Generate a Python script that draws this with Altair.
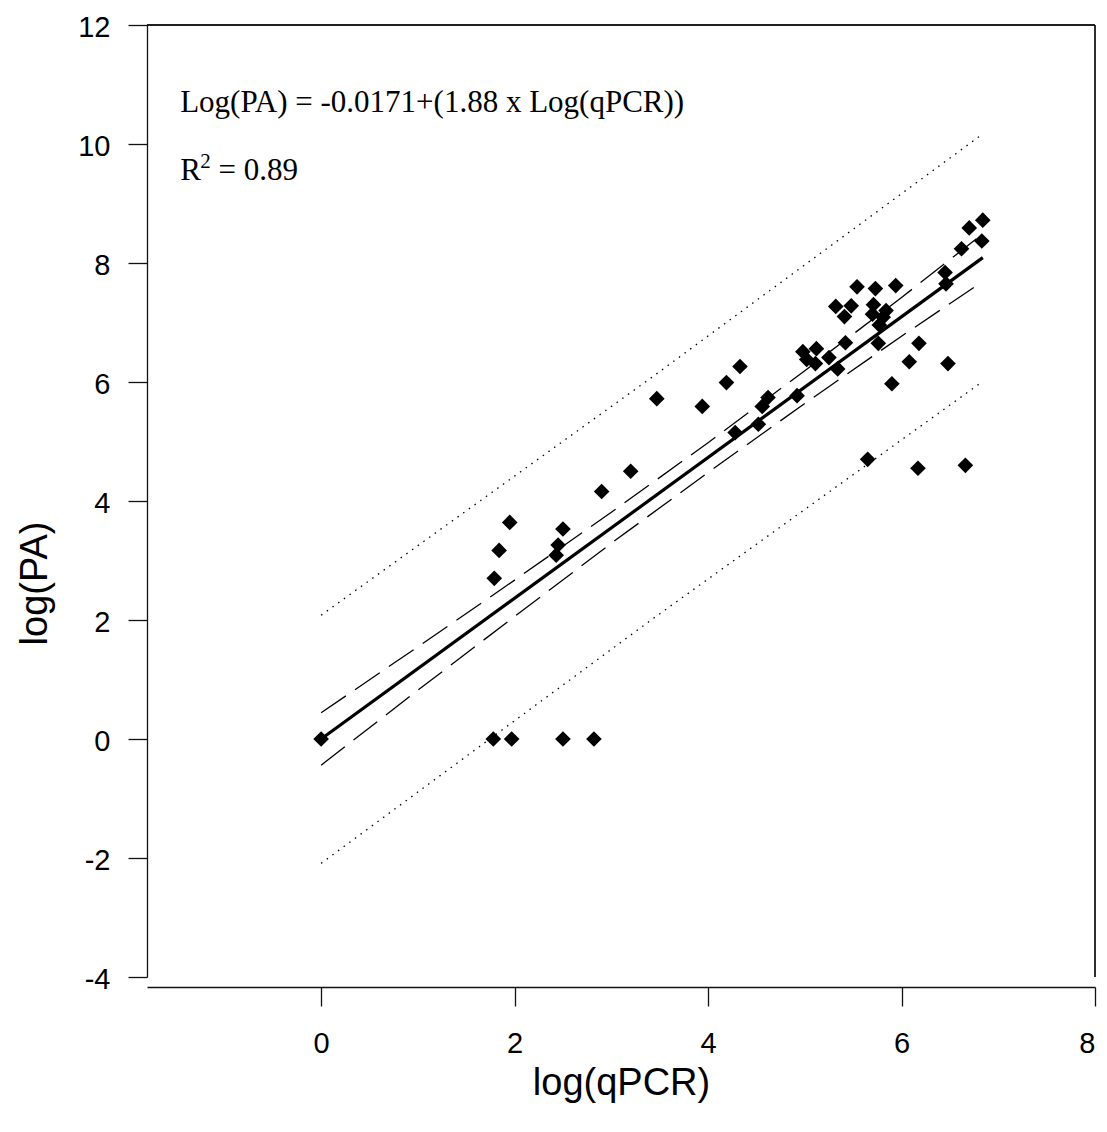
import altair as alt
import pandas as pd

# ---- data ----
qpcr = [0.00, 1.78, 1.97, 2.50, 2.82, 1.79, 1.84, 1.95, 2.43, 2.45, 2.50, 2.90, 3.20, 3.47, 3.94,
        4.19, 4.33, 4.28, 4.52, 4.56, 4.62, 4.92, 4.98, 5.02, 5.11, 5.12, 5.25, 5.34, 5.42,
        5.54, 5.73, 5.94, 5.32, 5.48, 5.41, 5.71, 5.70, 5.84, 5.81, 5.77, 5.76, 6.18, 6.08,
        6.48, 5.90, 6.45, 6.46, 6.62, 6.70, 6.84, 6.83, 5.65, 6.17, 6.66]
pa = [0.00, 0.00, 0.00, 0.00, 0.00, 2.70, 3.17, 3.64, 3.09, 3.26, 3.53, 4.16, 4.50, 5.72, 5.59,
      5.99, 6.26, 5.15, 5.29, 5.59, 5.74, 5.77, 6.51, 6.38, 6.31, 6.56, 6.41, 6.22, 6.66,
      7.60, 7.57, 7.62, 7.27, 7.28, 7.10, 7.30, 7.14, 7.20, 7.09, 6.96, 6.65, 6.65, 6.34,
      6.31, 5.97, 7.84, 7.65, 8.24, 8.59, 8.72, 8.37, 4.70, 4.55, 4.60]

reg_x = [0.0, 6.84]
reg_y = [0.0, 8.09]

ci_x = [0, 1, 2, 3, 4, 5, 6, 6.84]
ci_upper = [0.44, 1.55, 2.67, 3.81, 4.98, 6.19, 7.42, 8.49]
ci_lower = [-0.44, 0.82, 2.06, 3.29, 4.48, 5.64, 6.77, 7.69]

pi_x = [0.0, 3.42, 6.84]
pi_upper = [2.08, 6.08, 10.17]
pi_lower = [-2.09, 2.01, 6.01]

x_ticks = [0, 2, 4, 6, 8]
y_ticks = [-4, -2, 0, 2, 4, 6, 8, 10, 12]

ann_text = ["Log(PA) = -0.0171+(1.88 x Log(qPCR))", "R", "= 0.89"]
ann_x = [-1.457, -1.457, -1.060]
ann_y = [10.54, 9.39, 9.39]
sup_text = ["2"]
sup_x = [-1.250]
sup_y = [9.60]

W, H = 948, 952

pts = pd.DataFrame({"x": qpcr, "y": pa})
reg = pd.DataFrame({"x": reg_x, "y": reg_y})
ci = pd.DataFrame({"x": ci_x * 2, "y": ci_upper + ci_lower,
                   "band": ["u"] * len(ci_x) + ["l"] * len(ci_x)})
pi = pd.DataFrame({"x": pi_x * 2, "y": pi_upper + pi_lower,
                   "band": ["u"] * len(pi_x) + ["l"] * len(pi_x)})
ann = pd.DataFrame({"x": ann_x, "y": ann_y, "t": ann_text})
sup = pd.DataFrame({"x": sup_x, "y": sup_y, "t": sup_text})

X = alt.X("x:Q",
          scale=alt.Scale(domain=[-1.8, 8], nice=False, zero=False),
          axis=alt.Axis(values=x_ticks, title="log(qPCR)", offset=10, grid=False,
                        tickSize=19, tickWidth=1.3, tickColor="#111",
                        domainColor="#111", domainWidth=1.3,
                        labelFont="Liberation Sans", labelFontSize=29, labelColor="black",
                        labelBaseline="alphabetic", labelPadding=46,
                        labelExpr="'' + datum.value",
                        titleFont="Liberation Sans", titleFontSize=38, titleFontWeight="normal",
                        titleColor="black", titleBaseline="alphabetic", titleY=107))
Y = alt.Y("y:Q",
          scale=alt.Scale(domain=[-4, 12], nice=False, zero=False),
          axis=alt.Axis(values=y_ticks, title="log(PA)", grid=False,
                        tickSize=19, tickWidth=1.3, tickColor="#111",
                        domainColor="#111", domainWidth=1.3,
                        labelFont="Liberation Sans", labelFontSize=29, labelColor="black",
                        labelPadding=18, labelOffset=2,
                        labelExpr="'' + datum.value",
                        titleFont="Liberation Sans", titleFontSize=38, titleFontWeight="normal",
                        titleColor="black", titleBaseline="alphabetic",
                        titleX=-101, titleY=558, titleAngle=-90))

pi_layer = alt.Chart(pi).mark_line(color="black", strokeWidth=1.3, strokeDash=[1.5, 5.5]).encode(
    x=X, y=Y, detail="band:N")
ci_layer = alt.Chart(ci).mark_line(color="black", strokeWidth=1.3, strokeDash=[30, 11]).encode(
    x=X, y=Y, detail="band:N")
reg_layer = alt.Chart(reg).mark_line(color="black", strokeWidth=3.2).encode(x=X, y=Y)
pt_layer = alt.Chart(pts).mark_point(shape="diamond", filled=True, size=245,
                                     color="black", opacity=1).encode(x=X, y=Y)
ann_layer = alt.Chart(ann).mark_text(align="left", baseline="alphabetic",
                                     font="Liberation Serif", fontSize=31,
                                     color="black").encode(x=X, y=Y, text="t:N")
sup_layer = alt.Chart(sup).mark_text(align="left", baseline="alphabetic",
                                     font="Liberation Serif", fontSize=21,
                                     color="black").encode(x=X, y=Y, text="t:N")

top_rule = alt.Chart(reg).mark_rule(color="#111", strokeWidth=1.3).encode(
    x=alt.value(0), x2=alt.value(W), y=alt.value(0))
right_rule = alt.Chart(reg).mark_rule(color="#111", strokeWidth=1.3).encode(
    x=alt.value(W), y=alt.value(0), y2=alt.value(H))

chart = alt.layer(pi_layer, ci_layer, reg_layer, pt_layer, ann_layer, sup_layer,
                  top_rule, right_rule).properties(
    width=W, height=H,
    autosize=alt.AutoSizeParams(type="none"),
    padding={"left": 139, "top": 17, "right": 4, "bottom": 150},
    background="white",
).configure_view(stroke=None)

chart.save("out.html", embed_options={"renderer": "svg", "actions": False})
